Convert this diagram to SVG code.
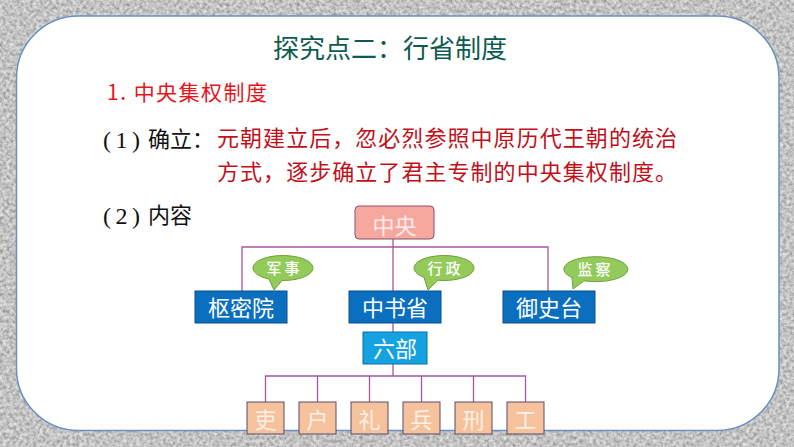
<svg xmlns="http://www.w3.org/2000/svg" width="794" height="447" viewBox="0 0 794 447">
<style>
.cjk{font-family:"Noto Sans CJK SC","Noto Sans",sans-serif}
.ln{stroke:#A8559F;stroke-width:1.3;fill:none}
.main{fill:#0B6FC0;stroke:#0A4F8A;stroke-width:1}
.mtxt{fill:#FFFFFF;font-size:22px;text-anchor:middle}
.bub{fill:#92CB5A;stroke:#6E9E3A;stroke-width:1}
.btxt{fill:#FFFFFF;font-size:15px;font-weight:500;text-anchor:middle;letter-spacing:3px}
.dept{fill:#F6C29C;stroke:#5A4A6A;stroke-width:1}
.dtxt{fill:#FDF0E6;font-size:22px;text-anchor:middle}
.red{fill:#C0101A;font-size:22px}
.blk{fill:#111111;font-size:22px}
.par{font-family:"Liberation Serif",serif;font-size:24px;fill:#111111}
</style>
<defs>
<filter id="tex" x="0" y="0" width="100%" height="100%">
<feTurbulence type="fractalNoise" baseFrequency="0.3" numOctaves="3" seed="7" result="f"/>
<feColorMatrix in="f" type="matrix" values="0.75 0 0 0 0.17  0.75 0 0 0 0.17  0.75 0 0 0 0.17  0 0 0 0 1"/>
</filter>
</defs>
<rect x="0" y="0" width="794" height="447" filter="url(#tex)"/>
<rect x="16.5" y="16" width="762.5" height="414.5" rx="62" ry="62" fill="#FFFFFF" stroke="#6A8FC0" stroke-width="1.5"/>

<g id="title"><text class="cjk" x="390" y="58" font-size="26" text-anchor="middle" fill="#0E5A50">探究点二：行省制度</text></g>
<g id="heading1"><text class="cjk" x="107" y="100" font-size="21" fill="#E8141C" textLength="160" lengthAdjust="spacing">1. 中央集权制度</text></g>
<g id="item1">
<text class="par" x="103" y="148" textLength="37" lengthAdjust="spacing">(1)</text>
<text class="cjk blk" x="148" y="147">确立：</text>
<text class="cjk red" x="217" y="146" textLength="460" lengthAdjust="spacing">元朝建立后，忽必烈参照中原历代王朝的统治</text>
<text class="cjk red" x="217" y="180" textLength="460" lengthAdjust="spacing">方式，逐步确立了君主专制的中央集权制度。</text>
</g>
<g id="item2">
<text class="par" x="103" y="224" textLength="37" lengthAdjust="spacing">(2)</text>
<text class="cjk blk" x="148" y="223">内容</text>
</g>

<g id="connectors">
<path class="ln" d="M393,239 V291 M242,291 V247 H548 V291"/>
<path class="ln" d="M393,323 V332 M393,364 V376 M265.5,402 V376 H525.5 V402 M317.5,376 V402 M369.5,376 V402 M421.5,376 V402 M473.5,376 V402"/>
</g>

<g id="zhongyang">
<rect x="355" y="206" width="79" height="33" rx="4" fill="#F6A89E" stroke="#8A5070" stroke-width="1"/>
<text class="cjk" x="394.5" y="234" font-size="22" text-anchor="middle" fill="#FDECEA">中央</text>
</g>

<g id="shumiyuan">
<rect class="main" x="195" y="291" width="92" height="32"/>
<text class="cjk mtxt" x="241" y="316">枢密院</text>
</g>
<g id="zhongshusheng">
<rect class="main" x="349" y="291" width="92" height="32"/>
<text class="cjk mtxt" x="395" y="316">中书省</text>
</g>
<g id="yushitai">
<rect class="main" x="503" y="291" width="92" height="32"/>
<text class="cjk mtxt" x="549" y="316">御史台</text>
</g>

<g id="junshi" transform="translate(283,268)">
<path class="bub" d="M-14,11.06 L-9,22 L-1,12.49 A30 12.5 0 1 0 -14,11.06 Z"/>
<text class="cjk btxt" x="1.5" y="5.5">军事</text>
</g>
<g id="xingzheng" transform="translate(444,268)">
<path class="bub" d="M-20,9.3 L-16,22 L-6,12.25 A30 12.5 0 1 0 -20,9.3 Z"/>
<text class="cjk btxt" x="1.5" y="5.5">行政</text>
</g>
<g id="jiancha" transform="translate(594,269)">
<path class="bub" d="M-22,8.5 L-21,20 L-10,11.78 A32 12.5 0 1 0 -22,8.5 Z"/>
<text class="cjk btxt" x="1.5" y="5.5">监察</text>
</g>

<g id="liubu">
<rect x="363" y="332" width="64" height="32" fill="#14A3E0" stroke="#0A6FA8" stroke-width="1"/>
<text class="cjk mtxt" x="395" y="357">六部</text>
</g>

<g id="li"><rect class="dept" x="247" y="402" width="37" height="32"/><text class="cjk dtxt" x="265.5" y="428">吏</text></g>
<g id="hu"><rect class="dept" x="299" y="402" width="37" height="32"/><text class="cjk dtxt" x="317.5" y="428">户</text></g>
<g id="li2"><rect class="dept" x="351" y="402" width="37" height="32"/><text class="cjk dtxt" x="369.5" y="428">礼</text></g>
<g id="bing"><rect class="dept" x="403" y="402" width="37" height="32"/><text class="cjk dtxt" x="421.5" y="428">兵</text></g>
<g id="xing"><rect class="dept" x="455" y="402" width="37" height="32"/><text class="cjk dtxt" x="473.5" y="428">刑</text></g>
<g id="gong"><rect class="dept" x="507" y="402" width="37" height="32"/><text class="cjk dtxt" x="525.5" y="428">工</text></g>
</svg>
